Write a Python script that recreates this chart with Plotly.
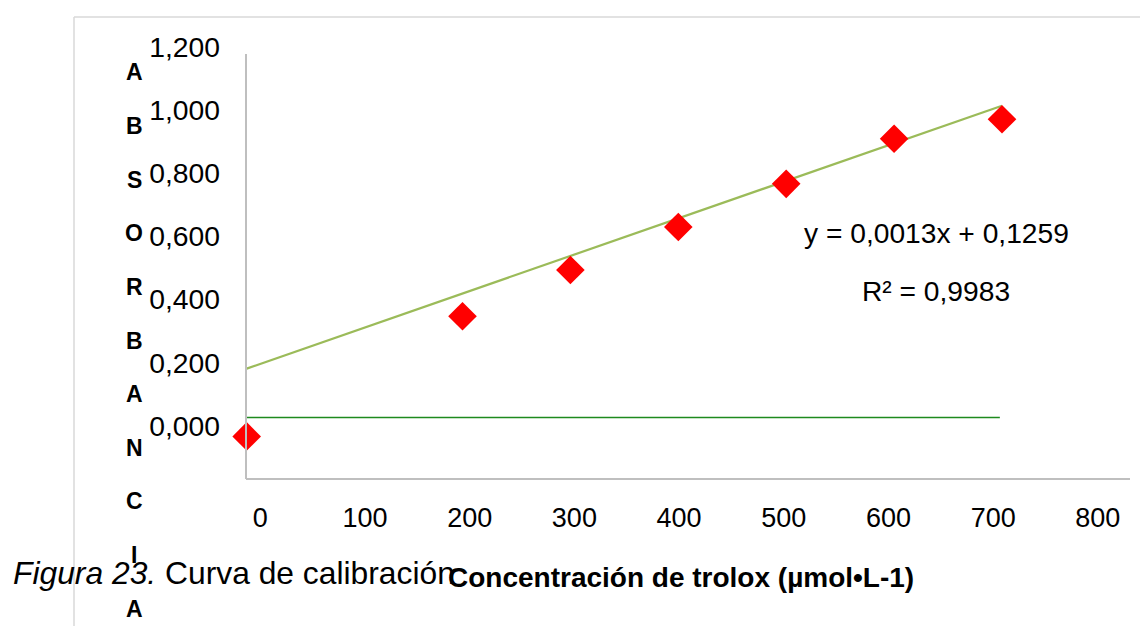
import plotly.graph_objects as go

# The page body keeps a default 8px margin, so the figure is drawn 8px in
# from the window edge; all placement below is measured in window pixels.
OFF = 8
WIN_W, WIN_H = 1148, 626
W, H = WIN_W - OFF, WIN_H - OFF

# ---- data ----
conc = [0, 200, 300, 400, 500, 600, 700]
absorb = [-0.034, 0.347, 0.494, 0.630, 0.767, 0.910, 0.972]
trend_x = [0, 700]
trend_y = [0.181, 1.015]
base_x = [0, 698]
base_y = [0.026, 0.026]
y_tickvals = [0, 0.2, 0.4, 0.6, 0.8, 1.0, 1.2]
y_ticktext = ["0,000", "0,200", "0,400", "0,600", "0,800", "1,000", "1,200"]
x_tickvals = [0, 100, 200, 300, 400, 500, 600, 700, 800]
x_ticktext = ["0", "100", "200", "300", "400", "500", "600", "700", "800"]
equation = "y = 0,0013x + 0,1259"
r_squared = "R² = 0,9983"
y_title = "ABSORBANCIA"
x_title = "Concentración de trolox (µmol•L-1)"
caption_italic = "Figura 23."
caption_text = " Curva de calibración"

FONT = "Liberation Sans, Arial, sans-serif"


def px(x):
    return (x - OFF) / W


def py(y):
    return 1 - (y - OFF) / H


fig = go.Figure()

fig.add_trace(go.Scatter(
    x=base_x, y=base_y, mode="lines",
    line=dict(color="#1E8A1E", width=1.5),
    hoverinfo="skip", showlegend=False))

fig.add_trace(go.Scatter(
    x=trend_x, y=trend_y, mode="lines",
    line=dict(color="#9BBB59", width=2.2),
    hoverinfo="skip", showlegend=False))

fig.add_trace(go.Scatter(
    x=conc, y=absorb, mode="markers",
    marker=dict(symbol="diamond", size=22, color="#FF0000",
                line=dict(width=0)),
    showlegend=False))

# carrier trace for the tick-label axis
fig.add_trace(go.Scatter(
    x=x_tickvals, y=[0] * len(x_tickvals), xaxis="x2", yaxis="y",
    mode="markers", marker=dict(opacity=0), hoverinfo="skip",
    showlegend=False))

shapes = [
    # outer frame (top and left)
    dict(type="line", xref="paper", yref="paper", x0=px(74), x1=px(1148),
         y0=py(17), y1=py(17), line=dict(color="#D9D9D9", width=1.5)),
    dict(type="line", xref="paper", yref="paper", x0=px(74), x1=px(74),
         y0=py(17), y1=py(626), line=dict(color="#D9D9D9", width=1.5)),
    # value axis line and category axis line
    dict(type="line", xref="paper", yref="paper", x0=px(246), x1=px(246),
         y0=py(54), y1=py(479), line=dict(color="#BFBFBF", width=2)),
    dict(type="line", xref="paper", yref="paper", x0=px(246), x1=px(1130),
         y0=py(479), y1=py(479), line=dict(color="#BFBFBF", width=2)),
]

annotations = [
    dict(text=equation, xref="paper", yref="paper", x=px(936), y=py(233),
         xanchor="center", yanchor="middle", showarrow=False,
         font=dict(family=FONT, size=28.2, color="#000")),
    dict(text=r_squared, xref="paper", yref="paper", x=px(936), y=py(291),
         xanchor="center", yanchor="middle", showarrow=False,
         font=dict(family=FONT, size=28.2, color="#000")),
    dict(text="<b>" + x_title + "</b>", xref="paper", yref="paper",
         x=px(681), y=py(577), xanchor="center", yanchor="middle",
         showarrow=False, font=dict(family=FONT, size=28, color="#000")),
    dict(text="<i>" + caption_italic + "</i>" + caption_text, xref="paper",
         yref="paper", x=px(11), y=py(572.5), xanchor="left",
         yanchor="middle", showarrow=False,
         font=dict(family=FONT, size=31.8, color="#000")),
]
for i, ch in enumerate(y_title):
    annotations.append(dict(
        text="<b>" + ch + "</b>", xref="paper", yref="paper",
        x=px(134), y=py(72.5 + i * 53.6), xanchor="center", yanchor="middle",
        showarrow=False, font=dict(family=FONT, size=23, color="#000")))

fig.update_layout(
    width=W, height=H, autosize=False,
    margin=dict(l=0, r=0, t=0, b=0, pad=0),
    paper_bgcolor="white", plot_bgcolor="white",
    xaxis=dict(domain=[0, 1], range=[-221.2, 835.3], visible=False,
               fixedrange=True),
    xaxis2=dict(overlaying="x", anchor="free", position=py(499),
                range=[-241.0, 847.9], tickvals=x_tickvals,
                ticktext=x_ticktext, showgrid=False, zeroline=False,
                showline=False, ticks="",
                tickfont=dict(family=FONT, size=27, color="#000")),
    yaxis=dict(domain=[0, 1], range=[-0.6353, 1.3248], anchor="free",
               position=px(220), tickvals=y_tickvals,
               ticktext=y_ticktext, showgrid=False, zeroline=False,
               showline=False, ticks="",
               tickfont=dict(family=FONT, size=28.3, color="#000")),
    shapes=shapes,
    annotations=annotations,
    showlegend=False,
)

fig.write_html("out.html")
